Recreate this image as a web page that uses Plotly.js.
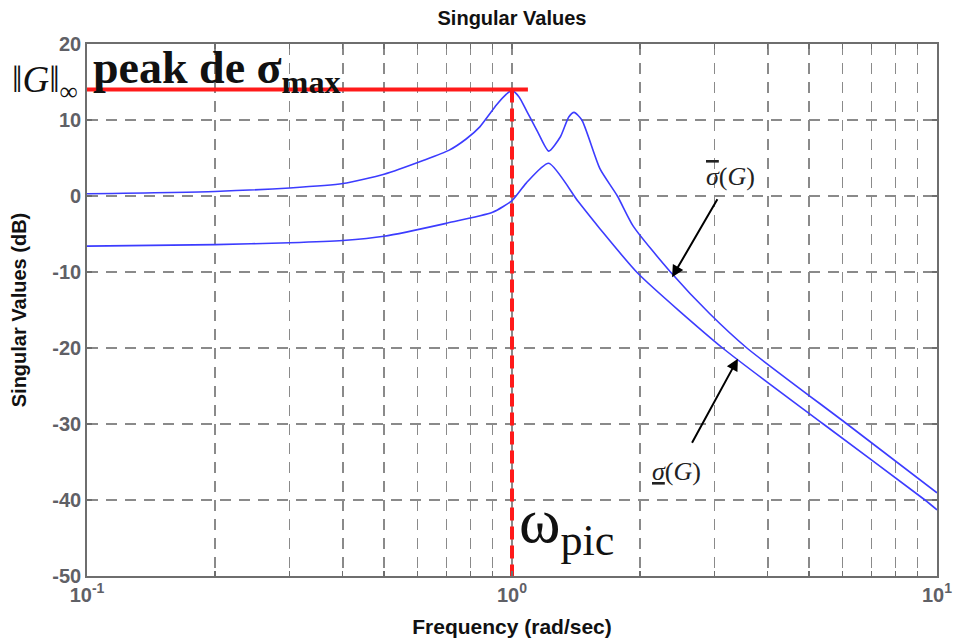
<!DOCTYPE html>
<html>
<head>
<meta charset="utf-8">
<script src="https://cdn.plot.ly/plotly-3.0.1.min.js"></script>
<style>
  html, body { margin: 0; padding: 0; background: #ffffff; }
  #chart { width: 953px; height: 640px; }
</style>
</head>
<body>
<div id="chart"></div>
<script>
// ---- data ----
const freqUpper = [0.1, 0.2, 0.3, 0.4, 0.5, 0.62, 0.71, 0.78, 0.84, 0.92, 0.97, 1.0, 1.04, 1.08, 1.15, 1.22, 1.30, 1.36, 1.40, 1.46, 1.61, 1.77, 1.93, 2.36, 2.92, 3.57, 6.14, 10];
const sigmaMax  = [0.3, 0.6, 1.06, 1.64, 2.86, 4.7, 6.0, 7.5, 9.1, 12.0, 13.4, 13.9, 13.0, 11.3, 8.4, 5.9, 7.8, 10.4, 11.0, 10.0, 3.6, 0.0, -4.0, -10.0, -15.5, -20.0, -30.0, -39.05];

const freqLower = [0.1, 0.2, 0.3, 0.4, 0.5, 0.7, 0.9, 1.0, 1.08, 1.22, 1.43, 1.61, 1.98, 3.13, 5.40, 9.37, 10];
const sigmaMin  = [-6.6, -6.4, -6.15, -5.85, -5.3, -3.6, -2.15, -0.6, 1.7, 4.3, -0.7, -4.3, -10.2, -20.0, -30.0, -40.0, -41.3];

const peakFreq = 1.0;      // omega_pic
const peakGain = 14.0;     // ||G||_inf in dB
const peakLineEnd = 1.09;  // where the red horizontal marker stops
const freqMin = 0.1, freqMax = 10;
const dbMin = -50, dbMax = 20;

const xTickVals = [0.1, 1, 10];
const xTickText = ['10<sup>-1</sup>', '10<sup>0</sup>', '10<sup>1</sup>'];
const xMinorVals = [0.2,0.3,0.4,0.5,0.6,0.7,0.8,0.9,2,3,4,5,6,7,8,9];
const yTickVals = [-50, -40, -30, -20, -10, 0, 10, 20];
const yTickText = ['-50', '-40', '-30', '-20', '-10', '0', '10', '20'];

// annotation anchor points (frequency, dB)
const arrowUpper = {tip: [2.38, -10.7], label: [3.27, 2.6]};
const arrowLower = {tip: [3.40, -21.4], label: [2.44, -36.2]};

const blue = '#3c3cff';
const red = '#ff1a1a';
const gridGray = '#8a8a8a';
const axisGray = '#6e6e6e';
const tickGray = '#5f6066';

const traces = [
  {x: freqUpper, y: sigmaMax, mode: 'lines', line: {color: blue, width: 1.6, shape: 'spline', smoothing: 0.6}, hoverinfo: 'skip'},
  {x: freqLower, y: sigmaMin, mode: 'lines', line: {color: blue, width: 1.6, shape: 'spline', smoothing: 0.6}, hoverinfo: 'skip'},
  {x: [freqMin, peakLineEnd], y: [peakGain, peakGain], mode: 'lines', line: {color: red, width: 4}, hoverinfo: 'skip', cliponaxis: false},
  {x: [peakFreq, peakFreq], y: [peakGain, dbMin], mode: 'lines', line: {color: red, width: 4, dash: '13px,6px'}, hoverinfo: 'skip'}
];

const serif = 'Liberation Serif, Times New Roman, serif';
const sans = 'Liberation Sans, Arial, sans-serif';
const L = Math.log10;

const layout = {
  width: 953, height: 640,
  margin: {l: 87, r: 16, t: 44, b: 64},
  paper_bgcolor: '#ffffff', plot_bgcolor: '#ffffff',
  showlegend: false,
  title: {text: '<b>Singular Values</b>', font: {family: sans, size: 20, color: '#111111'},
          x: 0.5, xref: 'paper', xanchor: 'center', y: 0.972, yref: 'container', yanchor: 'middle'},
  xaxis: {
    type: 'log', range: [L(freqMin), L(freqMax)],
    tickmode: 'array', tickvals: xTickVals, ticktext: xTickText,
    ticks: 'inside', ticklen: 5, tickcolor: axisGray, tickwidth: 1.2,
    showline: true, linecolor: axisGray, linewidth: 1.8, mirror: 'ticks',
    showgrid: true, gridcolor: gridGray, gridwidth: 1.3, griddash: '11px,8px',
    zeroline: false,
    tickfont: {family: sans, size: 20, color: tickGray, weight: 'bold'},
    minor: {tickmode: 'array', tickvals: xMinorVals, ticks: 'inside', ticklen: 5, tickcolor: axisGray, tickwidth: 1.2,
            showgrid: true, gridcolor: gridGray, gridwidth: 1.3, griddash: '11px,8px'},
    title: {text: '<b>Frequency (rad/sec)</b>', font: {family: sans, size: 21, color: '#111111'}, standoff: 14}
  },
  yaxis: {
    range: [dbMin, dbMax], tickmode: 'array', tickvals: yTickVals, ticktext: yTickText,
    ticks: 'inside', ticklen: 5, tickcolor: axisGray, tickwidth: 1.2,
    showline: true, linecolor: axisGray, linewidth: 1.8, mirror: 'ticks',
    showgrid: true, gridcolor: gridGray, gridwidth: 1.3, griddash: '11px,8px',
    zeroline: false,
    tickfont: {family: sans, size: 20, color: tickGray, weight: 'bold'},
    title: {text: '<b>Singular Values (dB)</b>', font: {family: sans, size: 20, color: '#111111'}, standoff: 20}
  },
  annotations: [
    {xref: 'paper', x: -0.050, yref: 'y', y: 15.0, xanchor: 'center', yanchor: 'middle', showarrow: false,
     text: '‖<i>G</i>‖<sub>∞</sub>', font: {family: serif, size: 37, color: '#111111'}},
    {xref: 'paper', x: 0.005, yref: 'y', y: 16.4, xanchor: 'left', yanchor: 'middle', showarrow: false,
     text: '<b>peak de σ<sub>max</sub></b>', font: {family: serif, size: 46, color: '#111111'}},
    {xref: 'x', x: L(1.03), yref: 'y', y: -43.3, xanchor: 'left', yanchor: 'middle', showarrow: false,
     text: 'ω<sub>pic</sub>', font: {family: serif, size: 63, color: '#111111'}},
    {xref: 'x', x: L(arrowUpper.tip[0]), yref: 'y', y: arrowUpper.tip[1],
     axref: 'x', ax: L(arrowUpper.label[0]), ayref: 'y', ay: arrowUpper.label[1],
     text: '<span style="text-decoration:overline"><i>σ</i></span>(<i>G</i>)', font: {family: serif, size: 26, color: '#222222'},
     showarrow: true, arrowhead: 2, arrowsize: 1.2, arrowwidth: 2, arrowcolor: '#000000', standoff: 0, startstandoff: 8},
    {xref: 'x', x: L(arrowLower.tip[0]), yref: 'y', y: arrowLower.tip[1],
     axref: 'x', ax: L(arrowLower.label[0]), ayref: 'y', ay: arrowLower.label[1],
     text: '<i><u>σ</u></i>(<i>G</i>)', font: {family: serif, size: 26, color: '#222222'},
     showarrow: true, arrowhead: 2, arrowsize: 1.2, arrowwidth: 2, arrowcolor: '#000000', standoff: 0, startstandoff: 14}
  ]
};

Plotly.newPlot('chart', traces, layout, {displayModeBar: false, staticPlot: true});
</script>
</body>
</html>
